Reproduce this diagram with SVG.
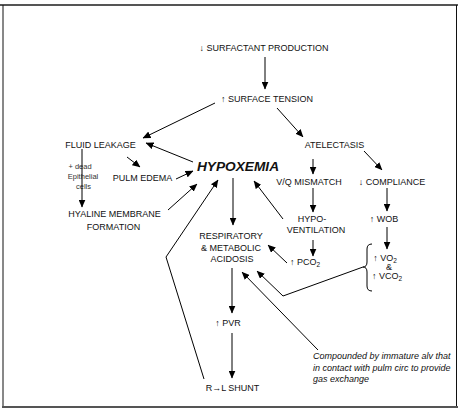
<svg xmlns="http://www.w3.org/2000/svg" width="458" height="409" viewBox="0 0 458 409">
<style>
text{font-family:"Liberation Sans",Arial,sans-serif;font-size:9px;fill:#111;text-anchor:middle}
.big{font-size:13.7px;font-weight:bold;font-style:italic}
.sm{font-size:7.5px;fill:#333}
.it{font-style:italic;text-anchor:start;font-size:9px}
.c line,.c polyline,.c path{stroke:#000;stroke-width:1;fill:none}
.c line,.c polyline{marker-end:url(#ah)}
</style>
<defs>
<marker id="ah" markerUnits="userSpaceOnUse" markerWidth="8" markerHeight="7" refX="7.5" refY="3.5" orient="auto">
<path d="M0,0 L8,3.5 L0,7 z" fill="#000"/>
</marker>
</defs>
<rect width="458" height="409" fill="#fff"/>
<g id="frame">
<line x1="0" y1="5" x2="458" y2="5" stroke="#555" stroke-width="2"/>
<line x1="3" y1="5" x2="3" y2="407" stroke="#111" stroke-width="1"/>
<line x1="456.5" y1="5" x2="456.5" y2="407" stroke="#111" stroke-width="1"/>
<line x1="2" y1="407" x2="458" y2="407" stroke="#555" stroke-width="2"/>
</g>
<g id="surfactant"><text x="264" y="51">↓ SURFACTANT PRODUCTION</text></g>
<g id="tension"><text x="267" y="102">↑ SURFACE TENSION</text></g>
<g id="fluid"><text x="100.5" y="148">FLUID LEAKAGE</text></g>
<g id="atelectasis"><text x="334.5" y="148">ATELECTASIS</text></g>
<g id="hypoxemia"><text class="big" x="238" y="171">HYPOXEMIA</text></g>
<g id="edema"><text x="142.5" y="181">PULM EDEMA</text></g>
<g id="dead"><text class="sm" x="80" y="169">+ dead</text><text class="sm" x="83" y="178.5">Epithelial</text><text class="sm" x="83.5" y="189">cells</text></g>
<g id="hyaline"><text x="114.5" y="217">HYALINE MEMBRANE</text><text x="113.5" y="230">FORMATION</text></g>
<g id="vq"><text x="309" y="185">V/Q MISMATCH</text></g>
<g id="compliance"><text x="392" y="185">↓ COMPLIANCE</text></g>
<g id="hypovent"><text x="312" y="222">HYPO-</text><text x="316" y="233">VENTILATION</text></g>
<g id="wob"><text x="384" y="222">↑ WOB</text></g>
<g id="acidosis"><text x="231" y="239">RESPIRATORY</text><text x="231" y="250.5">&amp; METABOLIC</text><text x="232" y="262">ACIDOSIS</text></g>
<g id="pco2"><text x="305" y="265">↑ PCO<tspan font-size="6.5" dy="2">2</tspan></text></g>
<g id="vo2"><text x="385" y="261">↑ VO<tspan font-size="6.5" dy="2">2</tspan></text><text x="389" y="270">&amp;</text><text x="387" y="279">↑ VCO<tspan font-size="6.5" dy="2">2</tspan></text>
<path d="M372,244 Q367,244 367,249 L367,262 Q367,267 363,267 Q367,267 367,272 L367,286 Q367,291 372,291" stroke="#000" fill="none"/></g>
<g id="pvr"><text x="228" y="326">↑ PVR</text></g>
<g id="shunt"><text x="232.5" y="391">R→L SHUNT</text></g>
<g id="note"><text class="it" x="313" y="359">Compounded by immature alv that</text><text class="it" x="313" y="371">in contact with pulm circ to provide</text><text class="it" x="313" y="382">gas exchange</text></g>
<g id="connectors" class="c">
<line x1="265" y1="57" x2="265" y2="89"/>
<line x1="215" y1="103" x2="143" y2="138"/>
<line x1="277" y1="108" x2="303" y2="137"/>
<line x1="193" y1="162" x2="146" y2="143"/>
<line x1="127" y1="157" x2="140" y2="167"/>
<line x1="82" y1="149" x2="82" y2="207"/>
<line x1="176" y1="179" x2="193" y2="171"/>
<line x1="168" y1="210" x2="197" y2="184"/>
<polyline points="204,379 166,257 218,180"/>
<line x1="233" y1="178" x2="233" y2="225"/>
<line x1="313" y1="159" x2="313" y2="174"/>
<line x1="364" y1="151" x2="382" y2="170"/>
<line x1="313" y1="188" x2="313" y2="212"/>
<line x1="283" y1="219" x2="254" y2="181"/>
<line x1="387" y1="188" x2="387" y2="211"/>
<line x1="387" y1="227" x2="387" y2="249"/>
<line x1="313" y1="240" x2="313" y2="256"/>
<line x1="287" y1="263" x2="268" y2="245"/>
<polyline points="363,267 283,296 257,271"/>
<line x1="318" y1="350" x2="242" y2="272"/>
<line x1="232" y1="268" x2="232" y2="313"/>
<line x1="232" y1="333" x2="232" y2="378"/>
</g>
</svg>
